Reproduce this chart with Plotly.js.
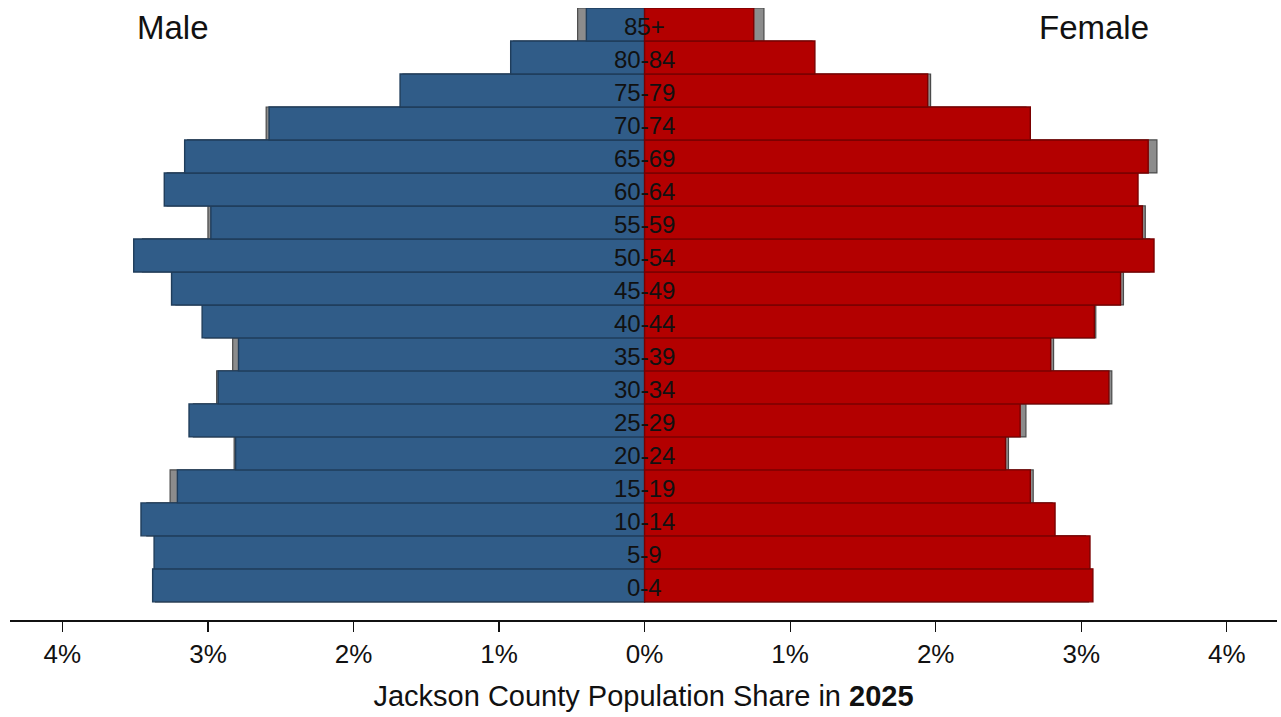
<!DOCTYPE html>
<html>
<head>
<meta charset="utf-8">
<script src="https://cdn.plot.ly/plotly-3.0.1.min.js"></script>
<style>
  html, body { margin: 0; padding: 0; background: #ffffff; }
  #chart { width: 1281px; height: 717px; }
</style>
</head>
<body>
<div id="chart"></div>
<script>
// Age groups, bottom to top
const ageGroups = ["0-4","5-9","10-14","15-19","20-24","25-29","30-34","35-39","40-44",
                   "45-49","50-54","55-59","60-64","65-69","70-74","75-79","80-84","85+"];

// Population share (%) in 2025
const male2025   = [3.38, 3.37, 3.46, 3.21, 2.81, 3.13, 2.93, 2.79, 3.04,
                    3.25, 3.51, 2.98, 3.30, 3.16, 2.58, 1.68, 0.92, 0.40];
const female2025 = [3.08, 3.06, 2.82, 2.65, 2.48, 2.58, 3.19, 2.79, 3.09,
                    3.27, 3.50, 3.42, 3.39, 3.46, 2.65, 1.945, 1.17, 0.75];

// Comparison shares (%) shown in gray behind
const maleCompare   = [3.36, 3.35, 3.42, 3.26, 2.82, 3.10, 2.94, 2.83, 3.02,
                       3.22, 3.45, 3.00, 3.28, 3.14, 2.60, 1.66, 0.90, 0.46];
const femaleCompare = [3.05, 3.03, 2.80, 2.67, 2.50, 2.62, 3.21, 2.81, 3.10,
                       3.29, 3.47, 3.44, 3.37, 3.52, 2.62, 1.965, 1.15, 0.82];

// Axis tick labels
const tickValues = [-4, -3, -2, -1, 0, 1, 2, 3, 4];
const tickLabels = ["4%", "3%", "2%", "1%", "0%", "1%", "2%", "3%", "4%"];

const FONT = "Liberation Sans, Arial, sans-serif";
const neg = a => a.map(v => -v);

const grayStyle = { color: "#8c8c8c", line: { color: "#4a4a4a", width: 1.2 } };

const traces = [
  { type: "bar", orientation: "h", y: ageGroups, x: neg(maleCompare),
    marker: grayStyle, hoverinfo: "skip", showlegend: false },
  { type: "bar", orientation: "h", y: ageGroups, x: femaleCompare,
    marker: grayStyle, hoverinfo: "skip", showlegend: false },
  { type: "bar", orientation: "h", y: ageGroups, x: neg(male2025),
    marker: { color: "#305c88", line: { color: "#1f3d5b", width: 1.4 } },
    hoverinfo: "skip", showlegend: false },
  { type: "bar", orientation: "h", y: ageGroups, x: female2025,
    marker: { color: "#b30000", line: { color: "#7a0000", width: 1.4 } },
    hoverinfo: "skip", showlegend: false }
];

// Age-group labels in the centre of the pyramid
const ageLabelAnnotations = ageGroups.map(g => ({
  text: g, x: 0, y: g, xref: "x", yref: "y", showarrow: false,
  xanchor: "center", yanchor: "middle", yshift: -2,
  font: { family: FONT, size: 24, color: "#111111" }
}));

const layout = {
  width: 1281, height: 717,
  margin: { l: 10, r: 4, t: 8, b: 97 },
  paper_bgcolor: "#ffffff", plot_bgcolor: "#ffffff",
  barmode: "overlay", bargap: 0,
  font: { family: FONT, color: "#111111" },
  xaxis: {
    range: [-4.36, 4.345],
    tickvals: tickValues, ticktext: tickLabels,
    showgrid: false, zeroline: false,
    showline: true, linecolor: "#111111", linewidth: 1.5,
    ticks: "outside", ticklen: 10, tickwidth: 1.2, tickcolor: "#111111",
    tickfont: { family: FONT, size: 26, color: "#111111" },
    ticklabelstandoff: 0,
    title: { text: "Jackson County Population Share in <b>2025</b>",
             font: { family: FONT, size: 29, color: "#111111" }, standoff: 18 },
    fixedrange: true
  },
  yaxis: {
    type: "category",
    range: [-1.05, 17.5],
    showticklabels: false, showgrid: false, zeroline: false, showline: false,
    ticks: "", fixedrange: true
  },
  annotations: [
    { text: "Male", x: 173, y: 27, xref: "paper", yref: "paper", showarrow: false,
      font: { family: FONT, size: 33, color: "#111111" } },
    { text: "Female", x: 1094, y: 27, xref: "paper", yref: "paper", showarrow: false,
      font: { family: FONT, size: 33, color: "#111111" } }
  ]
};

// Convert pixel placement of the Male/Female labels into paper coords
const plotW = 1281 - 10 - 4, plotH = 717 - 8 - 97;
layout.annotations.forEach(a => {
  a.x = (a.x - 10) / plotW;
  a.y = 1 - (a.y - 8) / plotH;
  a.xanchor = "center"; a.yanchor = "middle";
});
layout.annotations = layout.annotations.concat(ageLabelAnnotations);

Plotly.newPlot("chart", traces, layout, { displayModeBar: false, staticPlot: true });
</script>
</body>
</html>
